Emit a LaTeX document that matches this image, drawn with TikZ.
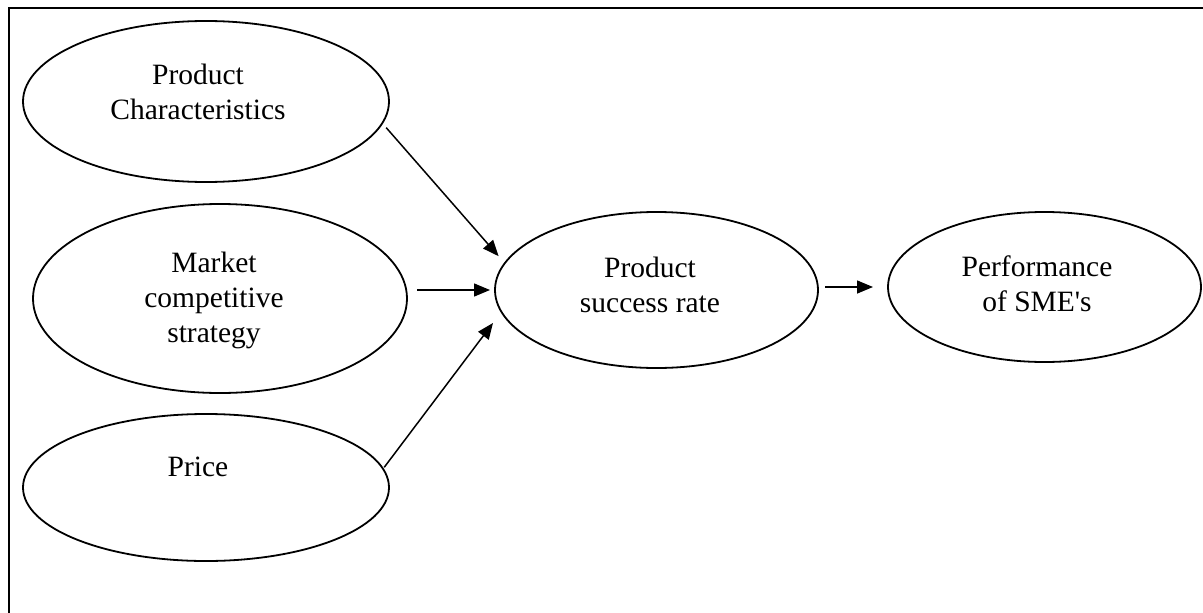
\documentclass[tikz,border=0pt]{standalone}
\usepackage{fontspec}
\setmainfont{Liberation Serif}
\usetikzlibrary{shapes.geometric,arrows.meta}
\begin{document}
\begin{tikzpicture}[x=1pt,y=-1pt,
  ell/.style={draw,ellipse,line width=1.8pt,inner sep=0pt,outer sep=0pt},
  lbl/.style={anchor=base,inner sep=0pt,font=\fontsize{29.5}{35}\selectfont},
  arr/.style={-{Triangle[length=16pt,width=13pt]},line width=1.5pt},
  frameline/.style={line width=2.2pt}]
\useasboundingbox (0,0) rectangle (1203,613);
\coordinate (fa) at (9,613);
\coordinate (fb) at (9,8);
\coordinate (fc) at (1203,8);
\draw[frameline] (fa) -- (fb) -- (fc);

\node[ell,minimum width=366pt,minimum height=161pt] (pc) at (206,101.5) {};
\node[ell,minimum width=374pt,minimum height=189pt] (mcs) at (220,298.5) {};
\node[ell,minimum width=366pt,minimum height=147pt] (price) at (206,487.5) {};
\node[ell,minimum width=323pt,minimum height=156pt] (psr) at (656.5,290) {};
\node[ell,minimum width=313pt,minimum height=150pt] (perf) at (1044.5,287) {};

\node[lbl] (tpc) at (198,84) {\begin{tabular}[t]{@{}c@{}}Product\\Characteristics\end{tabular}};
\node[lbl] (tmcs) at (214,272) {\begin{tabular}[t]{@{}c@{}}Market\\competitive\\strategy\end{tabular}};
\node[lbl] (tprice) at (198,476) {Price};
\node[lbl] (tpsr) at (650,277) {\begin{tabular}[t]{@{}c@{}}Product\\success rate\end{tabular}};
\node[lbl] (tperf) at (1037,276) {\begin{tabular}[t]{@{}c@{}}Performance\\of SME\textquotesingle s\end{tabular}};

\draw[arr,shorten <=6pt,shorten >=9.4pt] (pc.-7) -- (psr.170);
\draw[arr,shorten <=10pt,shorten >=5pt] (mcs.east |- psr.west) -- (psr.west);
\draw[arr,shorten <=2pt,shorten >=14pt] (price.6) -- (psr.188);
\draw[arr,shorten <=7pt,shorten >=15pt] (psr.east |- perf.west) -- (perf.west);
\end{tikzpicture}
\end{document}
